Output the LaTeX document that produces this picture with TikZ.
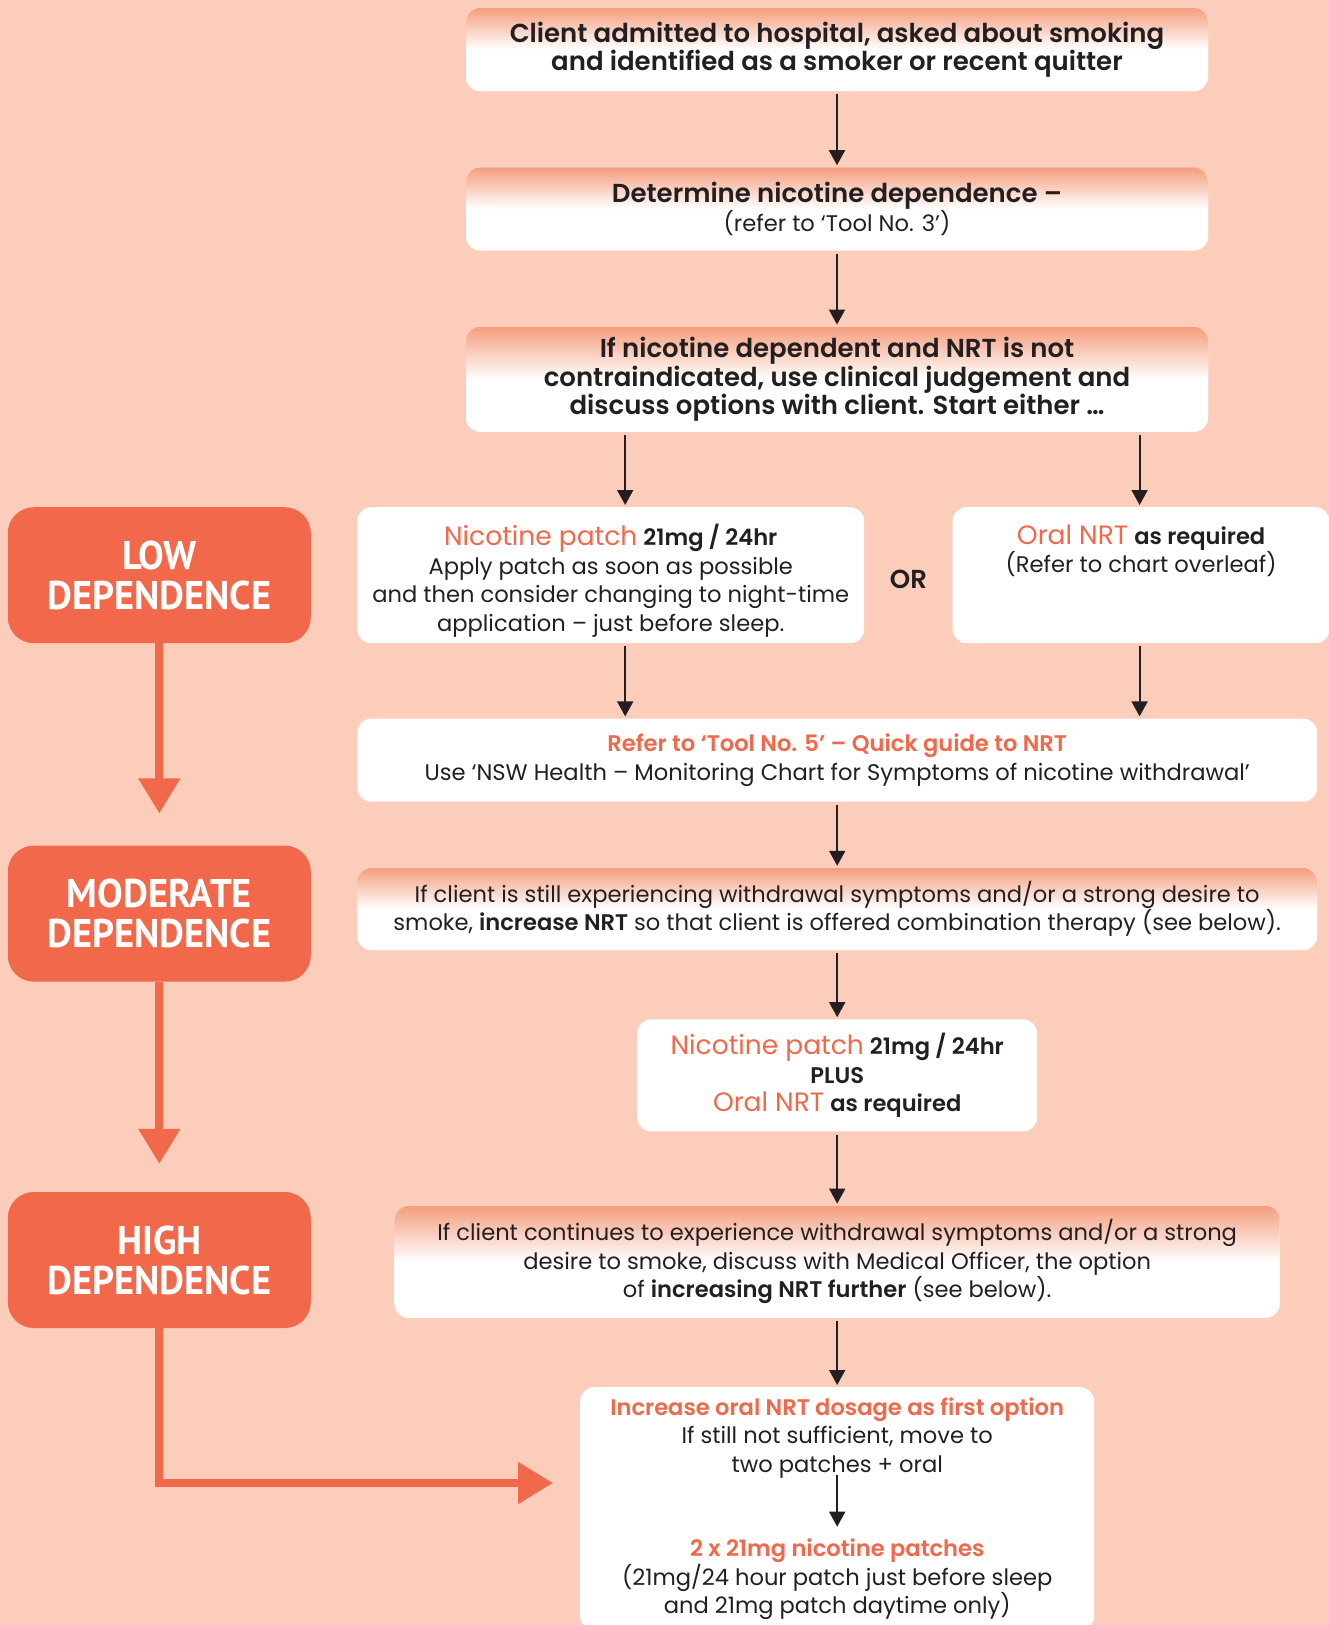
\documentclass[tikz,border=0pt]{standalone}
\usepackage{fontspec}
\setmainfont{Poppins}[BoldFont={Poppins SemiBold}]
\newfontfamily\depfont[FakeStretch=0.96]{PT Sans}
\usetikzlibrary{shapes,arrows.meta,positioning}
\definecolor{bgpeach}{RGB}{251,205,186}
\definecolor{deporange}{RGB}{241,104,74}
\definecolor{fadetop}{RGB}{244,158,126}
\definecolor{darktext}{RGB}{35,31,32}
\newcommand{\hl}[1]{\textcolor{deporange}{#1}}
\newcommand{\bodysize}{\fontsize{22.6}{28.5}\selectfont}
\newcommand{\headsize}{\fontsize{26}{28.5}\selectfont\bfseries}
\newcommand{\bigsize}{\fontsize{26.5}{28.5}\selectfont}
\tikzstyle{whitebox} = [rectangle, fill=white, rounded corners=14pt, align=center, text=darktext, font=\bodysize, inner sep=4pt]
\tikzstyle{fadebox} = [whitebox, top color=fadetop, bottom color=white, middle color=white]
\tikzstyle{depbox} = [rectangle, fill=deporange, rounded corners=26pt, minimum width=303pt, minimum height=136pt, text=white, align=center, font=\depfont\bfseries\fontsize{40}{40}\selectfont]
\tikzstyle{line} = [draw=darktext, line width=1.8pt, -{Triangle[width=16pt,length=15pt]}, shorten <=3pt, shorten >=2pt]
\tikzstyle{deparrow} = [draw=deporange, line width=8pt, -{Triangle[width=40pt,length=35pt]}]

\begin{document}
\begin{tikzpicture}[x=1pt,y=-1pt]
    \fill [bgpeach] (0,0) rectangle (1329,1625);
    \useasboundingbox (0,0) rectangle (1329,1625);
    % centre column
    \node [fadebox, minimum width=742pt, minimum height=83pt, font=\headsize] (start) at (837,49.5) {Client admitted to hospital, asked about smoking\\and identified as a smoker or recent quitter};
    \node [fadebox, minimum width=742pt, minimum height=83pt, below=76pt of start] (nicdep) {{\headsize Determine nicotine dependence –}\\(refer to ‘Tool No. 3’)};
    \node [fadebox, minimum width=742pt, minimum height=105pt, font=\headsize, below=76pt of nicdep] (either) {If nicotine dependent and NRT is not\\contraindicated, use clinical judgement and\\discuss options with client. Start either …};
    \node [whitebox, minimum width=507pt, minimum height=136pt, anchor=north west] (patch) at (357,507) {\rule{0pt}{32pt}{\bigsize\hl{Nicotine patch}} \textbf{21mg / 24hr}\\Apply patch as soon as possible\\and then consider changing to night-time\\application – just before sleep.};
    \node [whitebox, minimum width=377pt, minimum height=136pt, right=88pt of patch] (oral) {\rule{0pt}{32pt}{\bigsize\hl{Oral NRT}} \textbf{as required}\\(Refer to chart overleaf)\\\strut\\\strut};
    \path (patch.east) -- node[text=darktext, font=\headsize, yshift=-4pt] (or) {OR} (oral.west);
    \node [whitebox, minimum width=960pt, minimum height=83pt, below=75pt of patch.south west, anchor=north west] (refer) {\textbf{\hl{Refer to ‘Tool No. 5’ – Quick guide to NRT}}\\Use ‘NSW Health – Monitoring Chart for Symptoms of nicotine withdrawal’};
    \node [fadebox, minimum width=960pt, minimum height=82pt, below=66pt of refer] (withdraw) {If client is still experiencing withdrawal symptoms and/or a strong desire to\\smoke, \textbf{increase NRT} so that client is offered combination therapy (see below).};
    \node [whitebox, minimum width=400pt, minimum height=112pt, below=69pt of withdraw] (combo) {{\bigsize\hl{Nicotine patch}} \textbf{21mg / 24hr}\\\textbf{PLUS}\\{\bigsize\hl{Oral NRT}} \textbf{as required}};
    \node [fadebox, minimum width=885pt, minimum height=112pt, below=74pt of combo] (further) {If client continues to experience withdrawal symptoms and/or a strong\\desire to smoke, discuss with Medical Officer, the option\\of \textbf{increasing NRT further} (see below).};
    \node [whitebox, minimum width=514pt, minimum height=243pt, below=69pt of further] (final) {};
    \node [align=center, text=darktext, font=\bodysize, below=7pt of final.north] (firstopt) {\textbf{\hl{Increase oral NRT dosage as first option}}\\If still not sufficient, move to\\two patches + oral};
    \node [align=center, text=darktext, font=\bodysize, below=54pt of firstopt] (twopatch) {\textbf{\hl{2 x 21mg nicotine patches}}\\(21mg/24 hour patch just before sleep\\and 21mg patch daytime only)};
    % dependence levels
    \node [depbox, left=46pt of patch] (low) {LOW\\DEPENDENCE};
    \node [depbox, below=202pt of low] (moderate) {MODERATE\\DEPENDENCE};
    \node [depbox, below=210pt of moderate] (high) {HIGH\\DEPENDENCE};
    % connectors
    \coordinate[right=14.5pt of patch.north] (patchin);
    \coordinate[right=14.5pt of patch.south] (patchout);
    \coordinate[left=1.5pt of oral.north] (oralin);
    \coordinate[left=1.5pt of oral.south] (oralout);
    \path [line] (start) -- (nicdep);
    \path [line] (nicdep) -- (either);
    \path [line] (either.south -| patchin) -- (patchin);
    \path [line] (either.south -| oralin) -- (oralin);
    \path [line] (patchout) -- (refer.north -| patchout);
    \path [line] (oralout) -- (refer.north -| oralout);
    \path [line] (refer) -- (withdraw);
    \path [line] (withdraw) -- (combo);
    \path [line] (combo) -- (further);
    \path [line] (further) -- (final);
    \path [line, shorten <=-7pt, shorten >=9pt] (firstopt) -- (twopatch);
    \coordinate[below=170pt of low.south] (lowend);
    \coordinate[below=182pt of moderate.south] (modend);
    \coordinate (highend) at (553,1483);
    \path [deparrow] (low) -- (lowend);
    \path [deparrow] (moderate) -- (modend);
    \path [deparrow] (high) |- (highend);
\end{tikzpicture}
\end{document}
